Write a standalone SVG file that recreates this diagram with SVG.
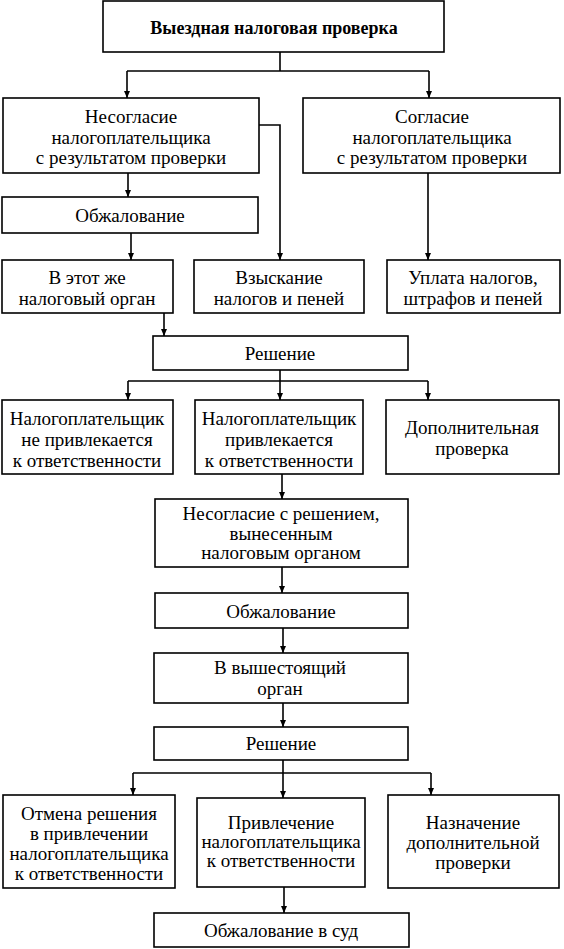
<svg xmlns="http://www.w3.org/2000/svg" width="564" height="949" viewBox="0 0 564 949">
<defs>
<style>
.box{fill:#fff;stroke:#000;stroke-width:1.6}
text{font-family:'Liberation Serif','Times New Roman','DejaVu Serif',serif;font-size:19px;fill:#000;text-anchor:middle;dominant-baseline:central}
.b{font-weight:bold;font-size:18px}
.ln{fill:none;stroke:#000;stroke-width:1.6}
.ar{fill:none;stroke:#000;stroke-width:1.6;marker-end:url(#ah)}
</style>
<marker id="ah" markerUnits="userSpaceOnUse" markerWidth="8" markerHeight="8" refX="4" refY="8" orient="0" viewBox="0 0 8 8">
<path d="M1,1 L4,8 L7,1 Z" fill="#000"/>
</marker>
</defs>
<rect width="564" height="949" fill="#fff"/>
<g id="connectors">
<path class="ln" d="M280,52 V71 M127,71 H429"/>
<path class="ar" d="M127,71 V98"/>
<path class="ar" d="M429,71 V98"/>
<path class="ar" d="M259,125 H280 V260"/>
<path class="ar" d="M128,173 V197"/>
<path class="ar" d="M428,173 V260"/>
<path class="ar" d="M131,233 V260"/>
<path class="ar" d="M164,313 V336"/>
<path class="ln" d="M280,370 V381 M128,381 H428"/>
<path class="ar" d="M128,381 V400"/>
<path class="ar" d="M280,381 V400"/>
<path class="ar" d="M428,381 V400"/>
<path class="ar" d="M282,474 V499"/>
<path class="ar" d="M282,567 V593"/>
<path class="ar" d="M283,628 V653"/>
<path class="ar" d="M283,703 V727"/>
<path class="ln" d="M283,760 V773 M133,773 H431"/>
<path class="ar" d="M133,773 V795"/>
<path class="ar" d="M283,773 V798"/>
<path class="ar" d="M431,773 V795"/>
<path class="ar" d="M284,887 V913"/>
</g>
<g id="n1"><rect class="box" x="103" y="1" width="341" height="51"/><text class="b" x="274" y="28">Выездная налоговая проверка</text></g>
<g id="n2"><rect class="box" x="3" y="98" width="256" height="75"/><text x="131" y="116">Несогласие</text><text x="131" y="137">налогоплательщика</text><text x="131" y="157">с результатом проверки</text></g>
<g id="n3"><rect class="box" x="303" y="98" width="257" height="75"/><text x="432" y="116">Согласие</text><text x="432" y="137">налогоплательщика</text><text x="432" y="157">с результатом проверки</text></g>
<g id="n4"><rect class="box" x="2" y="197" width="256" height="36"/><text x="130" y="215">Обжалование</text></g>
<g id="n5"><rect class="box" x="2" y="260" width="171" height="53"/><text x="87" y="277">В этот же</text><text x="87" y="298">налоговый орган</text></g>
<g id="n6"><rect class="box" x="194" y="260" width="170" height="53"/><text x="279" y="277">Взыскание</text><text x="279" y="298">налогов и пеней</text></g>
<g id="n7"><rect class="box" x="387" y="260" width="173" height="53"/><text x="473" y="277">Уплата налогов,</text><text x="473" y="298">штрафов и пеней</text></g>
<g id="n8"><rect class="box" x="153" y="336" width="255" height="34"/><text x="280" y="353">Решение</text></g>
<g id="n9"><rect class="box" x="2" y="400" width="171" height="74"/><text x="87" y="418">Налогоплательщик</text><text x="87" y="439">не привлекается</text><text x="87" y="460">к ответственности</text></g>
<g id="n10"><rect class="box" x="195" y="400" width="168" height="74"/><text x="279" y="418">Налогоплательщик</text><text x="279" y="439">привлекается</text><text x="279" y="460">к ответственности</text></g>
<g id="n11"><rect class="box" x="386" y="400" width="173" height="74"/><text x="472" y="427">Дополнительная</text><text x="472" y="448">проверка</text></g>
<g id="n12"><rect class="box" x="155" y="499" width="253" height="68"/><text x="281" y="513">Несогласие с решением,</text><text x="281" y="533">вынесенным</text><text x="281" y="552">налоговым органом</text></g>
<g id="n13"><rect class="box" x="155" y="593" width="253" height="35"/><text x="281" y="611">Обжалование</text></g>
<g id="n14"><rect class="box" x="154" y="653" width="254" height="50"/><text x="280" y="667">В вышестоящий</text><text x="280" y="688">орган</text></g>
<g id="n15"><rect class="box" x="154" y="727" width="254" height="33"/><text x="281" y="743">Решение</text></g>
<g id="n16"><rect class="box" x="3" y="795" width="172" height="93"/><text x="89" y="813">Отмена решения</text><text x="89" y="833">в привлечении</text><text x="89" y="853">налогоплательщика</text><text x="89" y="873">к ответственности</text></g>
<g id="n17"><rect class="box" x="197" y="798" width="168" height="89"/><text x="281" y="822">Привлечение</text><text x="281" y="841">налогоплательщика</text><text x="281" y="860">к ответственности</text></g>
<g id="n18"><rect class="box" x="388" y="795" width="171" height="93"/><text x="473" y="822">Назначение</text><text x="473" y="842">дополнительной</text><text x="473" y="862">проверки</text></g>
<g id="n19"><rect class="box" x="154" y="913" width="255" height="34"/><text x="281" y="930">Обжалование в суд</text></g>
</svg>
